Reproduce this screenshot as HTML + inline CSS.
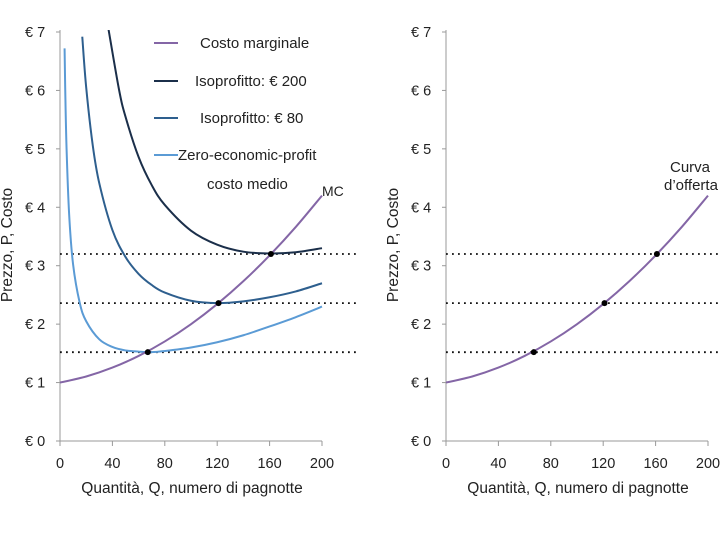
<!DOCTYPE html>
<html><head><meta charset="utf-8"><style>
body{margin:0;background:#fff;width:720px;height:540px;overflow:hidden;font-family:"Liberation Sans",sans-serif}
svg text{font-family:"Liberation Sans",sans-serif;fill:#222}
</style></head><body>
<svg id="c" width="720" height="540" xmlns="http://www.w3.org/2000/svg">
<defs><clipPath id="clipL"><rect x="60" y="30" width="300" height="412"/></clipPath><clipPath id="clipR"><rect x="446" y="30" width="274" height="412"/></clipPath></defs>
</svg>
<script>
const yTicks=[0,1,2,3,4,5,6,7];
const xTicks=[0,40,80,120,160,200];
const mcQ=[0,20,40,60,80,100,120,140,160,180,200];
const mcP=[1.0,1.104,1.256,1.456,1.704,2.0,2.344,2.736,3.176,3.664,4.2];
const zpQ=[3.5,4,5,7,10,15,20,30,40,50,60,70,80,100,120,140,160,180,200];
const zpP=[6.72,6.01,5.01,3.87,3.02,2.37,2.05,1.74,1.61,1.55,1.53,1.52,1.54,1.6,1.69,1.81,1.96,2.12,2.3];
const i80Q=[17,20,25,30,40,50,60,70,80,100,120,140,160,180,200];
const i80P=[6.92,6.05,5.06,4.41,3.61,3.15,2.86,2.67,2.54,2.4,2.36,2.39,2.46,2.56,2.7];
const i200Q=[37,45,50,60,70,80,100,120,140,160,180,200];
const i200P=[7.05,6.02,5.55,4.86,4.38,4.04,3.6,3.36,3.24,3.21,3.23,3.3];
const eqQ=[67,121,161];
const eqP=[1.52,2.36,3.2];
const NS="http://www.w3.org/2000/svg";
const svg=document.getElementById('c');
const yS=p=>441-p*58.43;
function mk(t,a,parent){const e=document.createElementNS(NS,t);for(const k in a)e.setAttribute(k,a[k]);(parent||svg).appendChild(e);return e;}
function path(xs,ys,xS){const pts=xs.map((q,i)=>[xS(q),yS(ys[i])]);
 let d='M'+pts[0][0]+','+pts[0][1];
 for(let i=0;i<pts.length-1;i++){const p0=pts[Math.max(0,i-1)],p1=pts[i],p2=pts[i+1],p3=pts[Math.min(pts.length-1,i+2)];
 const c1x=p1[0]+(p2[0]-p0[0])/6,c1y=p1[1]+(p2[1]-p0[1])/6,c2x=p2[0]-(p3[0]-p1[0])/6,c2y=p2[1]-(p3[1]-p1[1])/6;
 d+=` C${c1x},${c1y} ${c2x},${c2y} ${p2[0]},${p2[1]}`;}
 return d;}
function panel(x0,clip,left,side){
 const xS=q=>x0+q*1.31;
 const g=mk('g',{});
 
 
 const ax=mk('path',{d:`M${x0},30 V441 H${x0+262}`,stroke:'#999',fill:'none','stroke-width':1},g);
 
 
 yTicks.forEach(t=>{
  const tk=mk('line',{x1:x0-4,x2:x0,y1:yS(t),y2:yS(t),stroke:'#999'},g);
  
  
  const e=mk('text',{x:x0-35,y:yS(t)+5,'font-size':14.5},g);e.textContent='€ '+t;
  
  });
 xTicks.forEach(t=>{
  const tk=mk('line',{x1:xS(t),x2:xS(t),y1:441,y2:446,stroke:'#999'},g);
  
  
  const e=mk('text',{x:xS(t),y:468,'font-size':14.5,'text-anchor':'middle'},g);e.textContent=t;
  
  });
 const xt=mk('text',{x:x0+132,y:493,'font-size':15.5,'text-anchor':'middle'},g);xt.textContent='Quantità, Q, numero di pagnotte';
 
 
 const yt=mk('text',{x:0,y:0,'font-size':15.5,'text-anchor':'middle',transform:`translate(${x0-48},245) rotate(-90)`},g);yt.textContent='Prezzo, P, Costo';
 
 
 eqP.forEach(p=>{const l=mk('line',{x1:x0,x2:x0+(left?300:274),y1:yS(p),y2:yS(p),stroke:'#111','stroke-width':1.8,'stroke-dasharray':'1.8,4.2'},g);
  
  });
 const cg=mk('g',{'clip-path':`url(#${clip})`},g);
 const series=left?[[zpQ,zpP,'#5b9bd5','zero-profit-ac'],[i80Q,i80P,'#2e5f8e','isoprofit-80'],[i200Q,i200P,'#1b2f4a','isoprofit-200'],[mcQ,mcP,'#8466a6','mc-curve']]:[[mcQ,mcP,'#8466a6','supply-curve']];
 series.forEach(s=>{const p=mk('path',{d:path(s[0],s[1],xS),stroke:s[2],fill:'none','stroke-width':2},cg);
  
  });
 eqQ.forEach((q,i)=>{const c=mk('circle',{cx:xS(q),cy:yS(eqP[i]),r:3,fill:'#000'},g);
  
  });
}
panel(60,'clipL',true,'left');
panel(446,'clipR',false,'right');
const leg=[[43,'#8466a6','Costo marginale',200],[81,'#1b2f4a','Isoprofitto: € 200',195],[118,'#2e5f8e','Isoprofitto: € 80',200],[155,'#5b9bd5','Zero-economic-profit',178]];
leg.forEach(l=>{const ln=mk('line',{x1:154,x2:178,y1:l[0],y2:l[0],stroke:l[1],'stroke-width':2});
 
 
 const t=mk('text',{x:l[3],y:l[0]+5,'font-size':15});t.textContent=l[2];
 
 });
const cm=mk('text',{x:207,y:189,'font-size':15});cm.textContent='costo medio';


const mc=mk('text',{x:322,y:196,'font-size':14});mc.textContent='MC';


const c1=mk('text',{x:670,y:172,'font-size':15});c1.textContent='Curva';


const c2=mk('text',{x:664,y:190,'font-size':15});c2.textContent='d’offerta';


</script>
</body></html>
